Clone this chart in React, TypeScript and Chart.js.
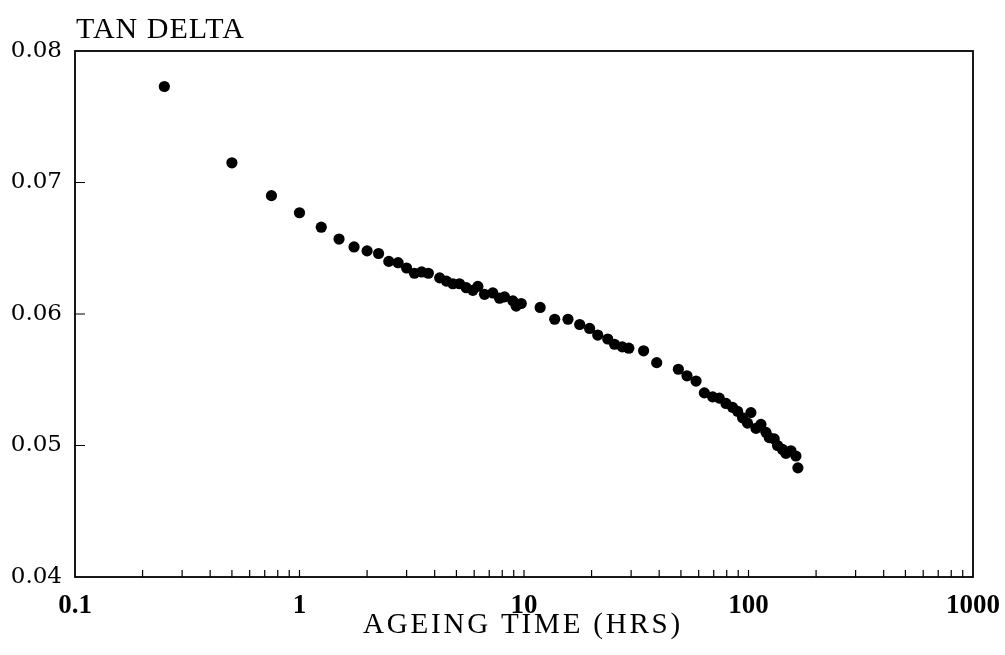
import React, { useEffect, useRef } from 'react';
import { Chart, registerables } from 'chart.js';

Chart.register(...registerables);

// Ageing time (hours)
const hours = [
  0.25, 0.5, 0.75, 1.0, 1.25, 1.5, 1.75, 2.0, 2.25, 2.5, 2.75, 3.0, 3.25, 3.5, 3.75,
  4.21, 4.51, 4.82, 5.16, 5.53, 5.92, 6.23, 6.67, 7.26, 7.78, 8.19, 8.92, 9.23, 9.72,
  11.8, 13.7, 15.7, 17.7, 19.6, 21.3, 23.6, 25.3, 27.4, 29.3, 34.1, 39,
  48.7, 53.2, 58.4, 63.6, 69.2, 74.1, 79.4, 84.9, 89.4, 94.1, 99, 102.5,
  108, 113.6, 119.6, 123.7, 130.2, 134.7, 141.8, 146.8, 154.5, 162.6, 166,
];
// Tan delta values
const tanDelta = [
  0.0773, 0.0715, 0.0690, 0.0677, 0.0666, 0.0657, 0.0651, 0.0648, 0.0646, 0.0640, 0.0639, 0.0635, 0.0631, 0.0632, 0.0631,
  0.06275, 0.0625, 0.0623, 0.0623, 0.0620, 0.0618, 0.0621, 0.0615, 0.0616, 0.0612, 0.0613, 0.0610, 0.0606, 0.0608,
  0.0605, 0.0596, 0.0596, 0.0592, 0.0589, 0.0584, 0.0581, 0.0577, 0.0575, 0.0574, 0.0572, 0.0563,
  0.0558, 0.0553, 0.0549, 0.0540, 0.0537, 0.0536, 0.0532, 0.0529, 0.0526, 0.0521, 0.0517, 0.0525,
  0.0513, 0.0516, 0.0510, 0.0506, 0.0505, 0.0500, 0.0497, 0.0494, 0.0496, 0.0492, 0.0483,
];

const xMajorTicks = [0.1, 1, 10, 100, 1000];
const xTickLabels = ['0.1', '1', '10', '100', '1000'];
const yTicks = [0.04, 0.05, 0.06, 0.07, 0.08];
const yTickLabels = ['0.04', '0.05', '0.06', '0.07', '0.08'];
const yAxisTitle = 'TAN DELTA';
const xAxisTitle = 'AGEING TIME (HRS)';

function allXTicks(): number[] {
  const out: number[] = [];
  for (let i = 0; i < xMajorTicks.length; i++) {
    out.push(xMajorTicks[i]);
    if (i < xMajorTicks.length - 1) {
      for (let m = 2; m <= 9; m++) out.push(xMajorTicks[i] * m);
    }
  }
  return out;
}

const framePlugin = {
  id: 'frameAndTitles',
  afterDraw(chart: any) {
    const { ctx, chartArea: a, scales } = chart;
    ctx.save();
    ctx.strokeStyle = '#000';
    ctx.lineWidth = 1.8;
    ctx.strokeRect(a.left, a.top, a.right - a.left, a.bottom - a.top);
    ctx.lineWidth = 1.2;
    ctx.beginPath();
    for (const t of scales.x.ticks) {
      const px = scales.x.getPixelForValue(t.value);
      if (px <= a.left + 1 || px >= a.right - 1) continue;
      ctx.moveTo(px, a.bottom);
      ctx.lineTo(px, a.bottom - 7);
    }
    for (const t of scales.y.ticks) {
      const py = scales.y.getPixelForValue(t.value);
      if (py <= a.top + 1 || py >= a.bottom - 1) continue;
      ctx.moveTo(a.left, py);
      ctx.lineTo(a.left + 10, py);
    }
    ctx.stroke();

    ctx.fillStyle = '#000';
    ctx.textBaseline = 'alphabetic';
    ctx.font = '30px "Liberation Serif"';
    (ctx as any).letterSpacing = '1px';
    ctx.textAlign = 'left';
    ctx.fillText(yAxisTitle, a.left + 1, a.top - 13);

    ctx.font = '29px "Liberation Serif"';
    (ctx as any).letterSpacing = '2.8px';
    ctx.textAlign = 'center';
    ctx.fillText(xAxisTitle, 523, a.bottom + 55.5);
    ctx.restore();
  },
};

export default function App() {
  const ref = useRef<HTMLCanvasElement | null>(null);

  useEffect(() => {
    if (!ref.current) return;
    const points = hours.map((h, i) => ({ x: h, y: tanDelta[i] }));
    const chart = new Chart(ref.current, {
      type: 'scatter',
      data: {
        datasets: [
          {
            data: points,
            backgroundColor: '#000',
            borderColor: '#000',
            borderWidth: 0,
            pointRadius: 5.6,
            pointHoverRadius: 5.6,
            showLine: false,
          },
        ],
      },
      options: {
        animation: false,
        responsive: false,
        layout: { padding: { left: 0, right: 22, top: 51, bottom: 0 } },
        plugins: {
          legend: { display: false },
          tooltip: { enabled: false },
          title: { display: false },
        },
        scales: {
          x: {
            type: 'logarithmic',
            min: 0.1,
            max: 1000,
            grid: { display: false },
            border: { display: false },
            afterBuildTicks: (scale: any) => {
              scale.ticks = allXTicks().map((v) => ({ value: v }));
            },
            afterFit: (scale: any) => {
              scale.height = 78;
            },
            ticks: {
              autoSkip: false,
              maxRotation: 0,
              padding: 5,
              color: '#000',
              font: { family: '"Liberation Serif"', size: 27, weight: 'bold' },
              callback: (value: any) => {
                const idx = xMajorTicks.findIndex((m) => Math.abs(m - Number(value)) < 1e-9);
                return idx >= 0 ? xTickLabels[idx] : '';
              },
            },
          },
          y: {
            type: 'linear',
            min: 0.04,
            max: 0.08,
            grid: { display: false },
            border: { display: false },
            afterBuildTicks: (scale: any) => {
              scale.ticks = yTicks.map((v) => ({ value: v }));
            },
            afterFit: (scale: any) => {
              scale.width = 75;
            },
            ticks: {
              padding: 5,
              color: '#000',
              font: { family: '"DejaVu Serif"', size: 23 },
              callback: (value: any) => {
                const idx = yTicks.findIndex((m) => Math.abs(m - Number(value)) < 1e-9);
                return idx >= 0 ? yTickLabels[idx] : '';
              },
            },
          },
        },
      },
      plugins: [framePlugin],
    } as any);
    return () => chart.destroy();
  }, []);

  return (
    <div style={{ position: 'absolute', left: 0, top: 0, width: 1005, height: 655, background: '#fff' }}>
      <canvas ref={ref} width={1005} height={655} />
    </div>
  );
}
